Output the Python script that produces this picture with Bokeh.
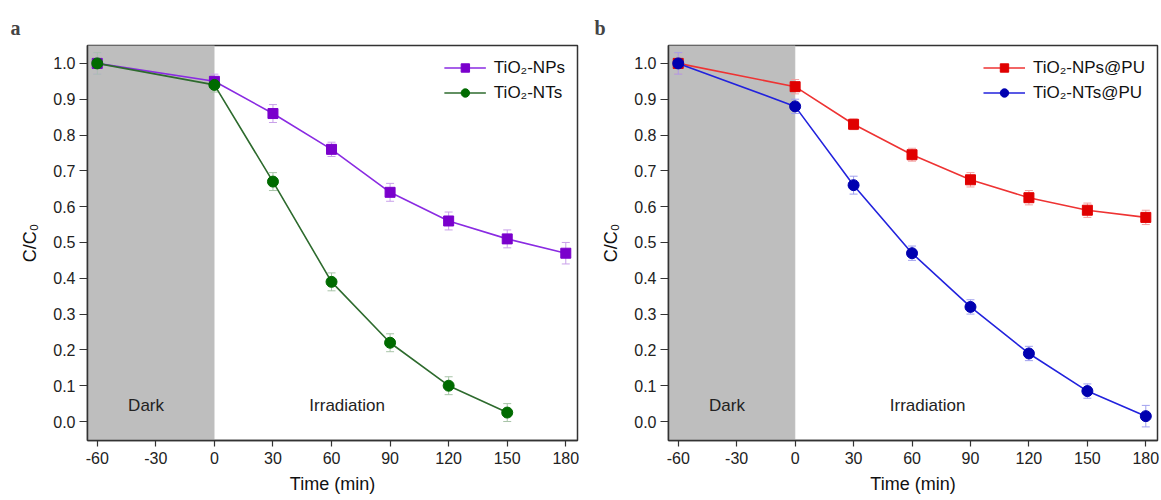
from bokeh.plotting import figure
from bokeh.layouts import row
from bokeh.models import ColumnDataSource, Whisker, TeeHead, Legend, LegendItem, BoxAnnotation, Label, Range1d, FixedTicker
from bokeh.embed import file_html
from bokeh.resources import INLINE

# ---------------- data ----------------
time_a = [-60, 0, 30, 60, 90, 120, 150, 180]
nps_a = [1.00, 0.95, 0.86, 0.76, 0.64, 0.56, 0.51, 0.47]
nps_a_err = [0.03, 0.02, 0.025, 0.02, 0.025, 0.025, 0.025, 0.03]
time_nts_a = [-60, 0, 30, 60, 90, 120, 150]
nts_a = [1.00, 0.94, 0.67, 0.39, 0.22, 0.10, 0.025]
nts_a_err = [0.03, 0.02, 0.025, 0.025, 0.025, 0.025, 0.025]

time_b = [-60, 0, 30, 60, 90, 120, 150, 180]
nps_b = [1.00, 0.935, 0.83, 0.745, 0.675, 0.625, 0.59, 0.57]
nps_b_err = [0.03, 0.02, 0.015, 0.018, 0.02, 0.02, 0.02, 0.02]
nts_b = [1.00, 0.88, 0.66, 0.47, 0.32, 0.19, 0.085, 0.015]
nts_b_err = [0.03, 0.02, 0.025, 0.02, 0.02, 0.02, 0.02, 0.03]

x_ticks = [-60, -30, 0, 30, 60, 90, 120, 150, 180]
x_tick_labels = ["-60", "-30", "0", "30", "60", "90", "120", "150", "180"]
y_ticks = [0.0, 0.1, 0.2, 0.3, 0.4, 0.5, 0.6, 0.7, 0.8, 0.9, 1.0]
y_tick_labels = ["0.0", "0.1", "0.2", "0.3", "0.4", "0.5", "0.6", "0.7", "0.8", "0.9", "1.0"]

FONT = "Liberation Sans"


def make_panel(letter, width, bl, br, title_offset, series):
    p = figure(width=width, height=500, output_backend="svg", toolbar_location=None,
               x_range=Range1d(-65, 186), y_range=Range1d(-0.053, 1.05),
               min_border_left=bl, min_border_right=br, min_border_top=45, min_border_bottom=60,
               title=letter)
    p.title.text_font = "Liberation Serif"
    p.title.text_font_style = "bold"
    p.title.text_font_size = "20px"
    p.title.offset = title_offset
    p.title.standoff = 14
    p.grid.visible = False
    p.outline_line_color = "#333333"
    p.outline_line_width = 1.5
    p.background_fill_color = "white"
    p.border_fill_color = "white"

    p.add_layout(BoxAnnotation(left=-65, right=0, fill_color="#bebebe", fill_alpha=1.0, level="underlay"))

    for ax in (p.xaxis[0], p.yaxis[0]):
        ax.major_label_text_font = FONT
        ax.major_label_text_font_size = "16px"
        ax.major_label_text_color = "#222222"
        ax.axis_label_text_font = FONT
        ax.axis_label_text_font_size = "18px"
        ax.axis_label_text_font_style = "normal"
        ax.axis_label_text_color = "#111111"
        ax.axis_line_color = "#333333"
        ax.axis_line_width = 1.5
        ax.major_tick_line_color = "#333333"
        ax.major_tick_line_width = 1.2
        ax.major_tick_out = 8
        ax.major_tick_in = 0
        ax.minor_tick_line_color = None
    p.xaxis.ticker = FixedTicker(ticks=x_ticks)
    p.yaxis.ticker = FixedTicker(ticks=y_ticks)
    p.xaxis.major_label_overrides = {t: s for t, s in zip(x_ticks, x_tick_labels)}
    p.yaxis.major_label_overrides = {t: s for t, s in zip(y_ticks, y_tick_labels)}
    p.xaxis.major_tick_out = 6
    p.xaxis.major_label_standoff = 5
    p.yaxis.major_label_standoff = 4
    p.xaxis.axis_label = "Time (min)"
    p.yaxis.axis_label = "C/C₀"
    p.xaxis.axis_label_standoff = 7
    p.yaxis.axis_label_standoff = 10

    p.add_layout(Label(x=-35, y=0.045, text="Dark", text_font=FONT, text_font_size="17px",
                       text_align="center", text_baseline="middle", text_color="#222222"))
    p.add_layout(Label(x=68, y=0.045, text="Irradiation", text_font=FONT, text_font_size="17px",
                       text_align="center", text_baseline="middle", text_color="#222222"))

    items = []
    for (xs, ys, errs, label, marker, mcolor, lcolor, ecolor) in series:
        src = ColumnDataSource(dict(x=xs, y=ys,
                                    lo=[v - e for v, e in zip(ys, errs)],
                                    hi=[v + e for v, e in zip(ys, errs)]))
        w = Whisker(base="x", lower="lo", upper="hi", source=src, line_color=ecolor, line_width=1,
                    upper_head=TeeHead(size=8, line_color=ecolor, line_width=1),
                    lower_head=TeeHead(size=8, line_color=ecolor, line_width=1))
        p.add_layout(w)
        r1 = p.line("x", "y", source=src, line_color=lcolor, line_width=1.6)
        size = 10 if marker == "square" else 11
        r2 = p.scatter("x", "y", source=src, marker=marker, size=size, fill_color=mcolor, line_color=mcolor)
        items.append(LegendItem(label=label, renderers=[r1, r2]))

    leg = Legend(items=items, location="top_right")
    leg.label_text_font = FONT
    leg.label_text_font_size = "17px"
    leg.label_text_color = "#111111"
    leg.glyph_width = 42
    leg.glyph_height = 21
    leg.spacing = 4
    leg.label_standoff = 8
    leg.background_fill_alpha = 0
    leg.border_line_alpha = 0
    leg.margin = 8
    leg.padding = 4
    p.add_layout(leg)
    return p


pa = make_panel("a", 588, 87, 11, -77, [
    (time_a, nps_a, nps_a_err, "TiO₂-NPs", "square", "#7a00cc", "#8a2be2", "#c9a0ea"),
    (time_nts_a, nts_a, nts_a_err, "TiO₂-NTs", "circle", "#006b00", "#2e6b2e", "#a8c4a8"),
])
pb = make_panel("b", 573, 80, 4, -74, [
    (time_b, nps_b, nps_b_err, "TiO₂-NPs@PU", "square", "#e00000", "#ee3333", "#f2a0a0"),
    (time_b, nts_b, nts_b_err, "TiO₂-NTs@PU", "circle", "#0000b0", "#2222dd", "#a0a0ee"),
])

layout = row(pa, pb)
open("out.html", "w").write(file_html(layout, INLINE))
